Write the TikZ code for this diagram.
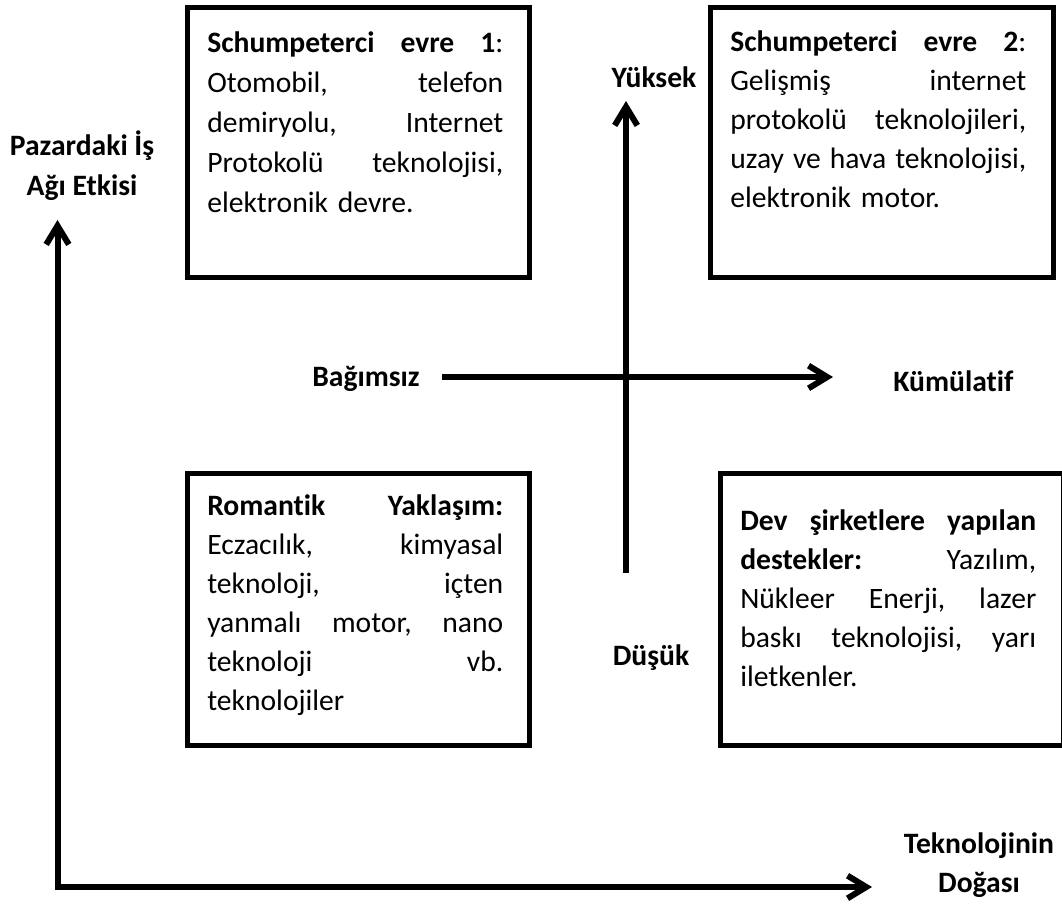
\documentclass[tikz,border=0pt]{standalone}
\usepackage{fontspec}
\setmainfont{Carlito}[Ligatures=NoCommon]
\usetikzlibrary{arrows.meta}
\newlength\boxW
\setlength\boxW{222pt}
\newcommand\jl[1]{\makebox[\boxW][l]{#1}}
\newcommand\st{\rule{0pt}{20pt}}
\newcommand\gapx{\hfill}
\tikzset{
  frame/.style={draw, line width=3.75pt, inner sep=0pt, anchor=north west,
    minimum width=256.9pt},
  boxtext/.style={anchor=north west, inner sep=0pt, align=left, text width=\boxW,
    font=\fontsize{22.2}{29.25}\selectfont},
  lab/.style={inner sep=0pt, font=\bfseries\fontsize{22.2}{29.25}\selectfont},
  ax/.style={line width=4.5pt, -{Straight Barb[length=14pt,width=17pt]}},
  axboth/.style={line width=4.5pt, {Straight Barb[length=14pt,width=17pt]}-{Straight Barb[length=14pt,width=17pt]}}
}
\begin{document}
\begin{tikzpicture}[x=0.75pt,y=-0.75pt]
\useasboundingbox (0,0) rectangle (1062,903);
% boxes
\node[frame, minimum height=202.5pt] (b1) at (184.5,4.5) {};
\node[frame, minimum height=202.5pt] (b2) at (708,4.5) {};
\node[frame, minimum height=204pt] (b3) at (184.5,470.5) {};
\node[frame, minimum height=204pt] (b4) at (718,470.5) {};
% box texts
\node[boxtext, font=\fontsize{22.2}{30}\selectfont] (t1) at (207,25.3) {\st\jl{\textbf{Schumpeterci}\gapx\textbf{evre}\gapx\textbf{1}:}\\
\jl{Otomobil,\gapx telefon}\\
\jl{demiryolu,\gapx Internet}\\
\jl{Protokolü\gapx teknolojisi,}\\
elektronik devre.};
\node[boxtext] (t2) at (730,24.3) {\st\jl{\textbf{Schumpeterci}\gapx\textbf{evre}\gapx\textbf{2}:}\\
\jl{Gelişmiş\gapx internet}\\
\jl{protokolü\gapx teknolojileri,}\\
\jl{uzay\gapx ve\gapx hava\gapx teknolojisi,}\\
elektronik motor.};
\node[boxtext] (t3) at (207,488.3) {\st\jl{\textbf{Romantik}\gapx\textbf{Yaklaşım:}}\\
\jl{Eczacılık,\gapx kimyasal}\\
\jl{teknoloji,\gapx içten}\\
\jl{yanmalı\gapx motor,\gapx nano}\\
\jl{teknoloji\gapx vb.}\\
teknolojiler};
\node[boxtext] (t4) at (740,503.3) {\st\jl{\textbf{Dev}\gapx\textbf{şirketlere}\gapx\textbf{yapılan}}\\
\jl{\textbf{destekler:}\gapx Yazılım,}\\
\jl{Nükleer\gapx Enerji,\gapx lazer}\\
\jl{baskı\gapx teknolojisi,\gapx yarı}\\
iletkenler.};
% labels
\node[lab, align=center, anchor=north, font=\bfseries\fontsize{22.2}{30}\selectfont] (yl) at (82,128.3) {\st Pazardaki İş\\Ağı Etkisi};
\node[lab, align=center, anchor=north] (xl) at (979,826.3) {\st Teknolojinin\\Doğası};
\node[lab, anchor=base] (hi) at (654,87) {Yüksek};
\node[lab, anchor=base] (lo) at (651,665) {Düşük};
\node[lab, anchor=base west] (ind) at (312,386) {Bağımsız};
\node[lab, anchor=base west] (cum) at (893,391) {Kümülatif};
% axes
\coordinate (O) at (57.5,887);
\coordinate (Ytip) at (57.5,220);
\coordinate (Xtip) at (872,887);
\draw[axboth] (Ytip) -- (O) -- (Xtip);
\coordinate (hs) at (442,377);
\coordinate (he) at (833,377);
\draw[ax] (hs) -- (he);
\coordinate (vs) at (626,573);
\coordinate (ve) at (626,101);
\draw[ax] (vs) -- (ve);
\end{tikzpicture}
\end{document}
